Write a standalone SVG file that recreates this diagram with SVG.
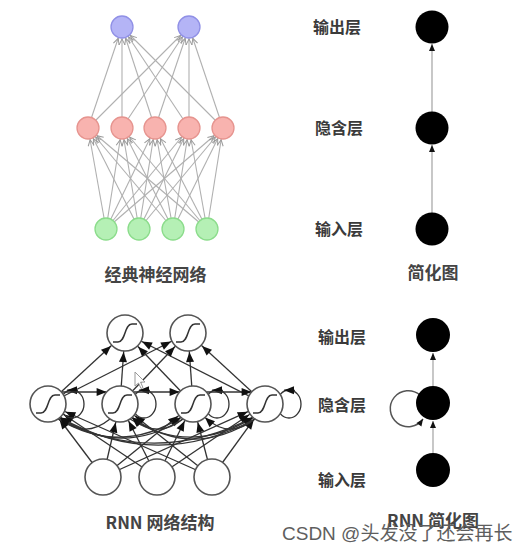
<svg xmlns="http://www.w3.org/2000/svg" width="532" height="554" viewBox="0 0 532 554">
<style>
.lbl{font-family:"Noto Sans CJK SC","Liberation Sans",sans-serif;font-weight:700;font-size:16px;fill:#3a3a3a}
.ttl{font-family:"Noto Sans CJK SC","Liberation Sans",sans-serif;font-weight:700;font-size:17px;fill:#444}
.wm{font-family:"Liberation Sans","Noto Sans CJK SC",sans-serif;font-size:19px;fill:#5e5e5e}
.nn{stroke:#b0b0b0;stroke-width:1.1;fill:none;marker-end:url(#ga)}
.blue{fill:#b4b4f6;stroke:#9090e6;stroke-width:1.3}
.red{fill:#f8b3af;stroke:#e6948f;stroke-width:1.3}
.green{fill:#b5f0b5;stroke:#8bdc8b;stroke-width:1.3}
.blk{fill:#000}
.sl{stroke:#aaa;stroke-width:1.3;fill:none}
.r{stroke:#333;stroke-width:1.3;fill:none}
.rc{stroke:#333;stroke-width:1.3;fill:none;marker-end:url(#ba)}
.rl{stroke:#333;stroke-width:1.3;fill:none;marker-end:url(#bc)}
.rn{fill:#fff;stroke:#555;stroke-width:1.6}
.sig{fill:none;stroke:#333;stroke-width:1.5}
</style>
<defs>
<marker id="ga" markerUnits="userSpaceOnUse" viewBox="0 0 30 10" markerWidth="30" markerHeight="10" refX="18" refY="5" orient="auto" overflow="visible">
<path d="M0,2 L6,5 L0,8" fill="none" stroke="#999" stroke-width="1"/>
</marker>
<marker id="sa" markerUnits="userSpaceOnUse" viewBox="0 0 8 8" markerWidth="8" markerHeight="8" refX="7" refY="4" orient="auto" overflow="visible">
<path d="M0,1 L7,4 L0,7 z" fill="#111"/>
</marker>
<marker id="bc" markerUnits="userSpaceOnUse" viewBox="0 0 10 10" markerWidth="10" markerHeight="10" refX="29" refY="4" orient="auto" overflow="visible">
<path d="M0,0 L10,4 L0,8 z" fill="#111"/>
</marker>
<marker id="ba" markerUnits="userSpaceOnUse" viewBox="0 0 10 10" markerWidth="10" markerHeight="10" refX="10" refY="4" orient="auto" overflow="visible">
<path d="M0,0 L10,4 L0,8 z" fill="#111"/>
</marker>
</defs>
<rect width="532" height="554" fill="#fff"/>

<g id="connectors">
<!-- classic NN: input -> hidden -->
<g id="nn-in-hid">
<line class="nn" x1="106" y1="229" x2="88" y2="128"/>
<line class="nn" x1="106" y1="229" x2="122" y2="128"/>
<line class="nn" x1="106" y1="229" x2="155" y2="128"/>
<line class="nn" x1="106" y1="229" x2="189" y2="128"/>
<line class="nn" x1="106" y1="229" x2="223" y2="128"/>
<line class="nn" x1="139" y1="229" x2="88" y2="128"/>
<line class="nn" x1="139" y1="229" x2="122" y2="128"/>
<line class="nn" x1="139" y1="229" x2="155" y2="128"/>
<line class="nn" x1="139" y1="229" x2="189" y2="128"/>
<line class="nn" x1="139" y1="229" x2="223" y2="128"/>
<line class="nn" x1="173" y1="229" x2="88" y2="128"/>
<line class="nn" x1="173" y1="229" x2="122" y2="128"/>
<line class="nn" x1="173" y1="229" x2="155" y2="128"/>
<line class="nn" x1="173" y1="229" x2="189" y2="128"/>
<line class="nn" x1="173" y1="229" x2="223" y2="128"/>
<line class="nn" x1="207" y1="229" x2="88" y2="128"/>
<line class="nn" x1="207" y1="229" x2="122" y2="128"/>
<line class="nn" x1="207" y1="229" x2="155" y2="128"/>
<line class="nn" x1="207" y1="229" x2="189" y2="128"/>
<line class="nn" x1="207" y1="229" x2="223" y2="128"/>
</g>
<!-- classic NN: hidden -> output -->
<g id="nn-hid-out">
<line class="nn" x1="88" y1="128" x2="122" y2="27"/>
<line class="nn" x1="122" y1="128" x2="122" y2="27"/>
<line class="nn" x1="155" y1="128" x2="122" y2="27"/>
<line class="nn" x1="189" y1="128" x2="122" y2="27"/>
<line class="nn" x1="223" y1="128" x2="122" y2="27"/>
<line class="nn" x1="88" y1="128" x2="189" y2="27"/>
<line class="nn" x1="122" y1="128" x2="189" y2="27"/>
<line class="nn" x1="155" y1="128" x2="189" y2="27"/>
<line class="nn" x1="189" y1="128" x2="189" y2="27"/>
<line class="nn" x1="223" y1="128" x2="189" y2="27"/>
</g>
<!-- simplified -->
<g id="simp-edges">
<line class="sl" x1="432" y1="213" x2="432" y2="145" marker-end="url(#sa)"/>
<line class="sl" x1="432" y1="112" x2="432" y2="44" marker-end="url(#sa)"/>
</g>
<!-- RNN: input -> hidden -->
<g id="rnn-in-hid">
<line class="rl" x1="103" y1="477" x2="48" y2="404"/>
<line class="rl" x1="103" y1="477" x2="120" y2="404"/>
<line class="rl" x1="103" y1="477" x2="193" y2="404"/>
<line class="rl" x1="103" y1="477" x2="265" y2="404"/>
<line class="rl" x1="157" y1="477" x2="48" y2="404"/>
<line class="rl" x1="157" y1="477" x2="120" y2="404"/>
<line class="rl" x1="157" y1="477" x2="193" y2="404"/>
<line class="rl" x1="157" y1="477" x2="265" y2="404"/>
<line class="rl" x1="212" y1="477" x2="48" y2="404"/>
<line class="rl" x1="212" y1="477" x2="120" y2="404"/>
<line class="rl" x1="212" y1="477" x2="193" y2="404"/>
<line class="rl" x1="212" y1="477" x2="265" y2="404"/>
</g>
<!-- RNN: hidden -> output -->
<g id="rnn-hid-out">
<line class="rl" x1="48" y1="404" x2="125" y2="333"/>
<line class="rl" x1="120" y1="404" x2="125" y2="333"/>
<line class="rl" x1="193" y1="404" x2="125" y2="333"/>
<line class="rl" x1="265" y1="404" x2="125" y2="333"/>
<line class="rl" x1="48" y1="404" x2="188" y2="333"/>
<line class="rl" x1="120" y1="404" x2="188" y2="333"/>
<line class="rl" x1="193" y1="404" x2="188" y2="333"/>
<line class="rl" x1="265" y1="404" x2="188" y2="333"/>
</g>
<!-- RNN: recurrent hidden -> hidden -->
<g id="rnn-rec">
<ellipse class="r" cx="72" cy="404" rx="12" ry="14"/>
<ellipse class="r" cx="144" cy="404" rx="12" ry="14"/>
<ellipse class="r" cx="217" cy="404" rx="12" ry="14"/>
<ellipse class="r" cx="289" cy="404" rx="12" ry="14"/>
<path class="rc" d="M78,390.3 L67,390.2"/>
<path class="rc" d="M150,390.3 L139,390.2"/>
<path class="rc" d="M223,390.3 L212,390.2"/>
<path class="rc" d="M295,390.3 L284,390.2"/>
<path class="rc" d="M61.4,392 L106.6,392"/>
<path class="rc" d="M133.4,392 L179.6,392"/>
<path class="rc" d="M206.4,392 L251.6,392"/>
<path class="rc" d="M58,419 Q120,456 181,417.4"/>
<path class="rc" d="M58,419 Q156,468 253,417.4"/>
<path class="rc" d="M130,419 Q192,456 253,417.4"/>
<path class="rc" d="M110,419 Q84,440 60,417.4"/>
<path class="rc" d="M183,419 Q120,458 60,417.4"/>
<path class="rc" d="M255,419 Q156,472 60,417.4"/>
<path class="rc" d="M183,419 Q157,440 132,417.4"/>
<path class="rc" d="M255,419 Q192,460 132,417.4"/>
<path class="rc" d="M255,419 Q229,440 205,417.4"/>
</g>
<!-- RNN simplified -->
<g id="rnn-simp-edges">
<line class="sl" x1="433" y1="453" x2="433" y2="421" marker-end="url(#sa)"/>
<line class="sl" x1="433" y1="386" x2="433" y2="353" marker-end="url(#sa)"/>
<path d="M420,395 A18,18 0 1 0 423,419" fill="none" stroke="#555" stroke-width="1.5" marker-end="url(#sa)"/>
</g>
</g>

<!-- classic NN nodes -->
<g id="nn-out-1"><circle class="blue" cx="122" cy="27" r="11"/></g>
<g id="nn-out-2"><circle class="blue" cx="189" cy="27" r="11"/></g>
<g id="nn-hid-1"><circle class="red" cx="88" cy="128" r="11"/></g>
<g id="nn-hid-2"><circle class="red" cx="122" cy="128" r="11"/></g>
<g id="nn-hid-3"><circle class="red" cx="155" cy="128" r="11"/></g>
<g id="nn-hid-4"><circle class="red" cx="189" cy="128" r="11"/></g>
<g id="nn-hid-5"><circle class="red" cx="223" cy="128" r="11"/></g>
<g id="nn-in-1"><circle class="green" cx="106" cy="229" r="11"/></g>
<g id="nn-in-2"><circle class="green" cx="139" cy="229" r="11"/></g>
<g id="nn-in-3"><circle class="green" cx="173" cy="229" r="11"/></g>
<g id="nn-in-4"><circle class="green" cx="207" cy="229" r="11"/></g>
<text class="ttl" x="155.5" y="281" text-anchor="middle">经典神经网络</text>

<!-- simplified nodes -->
<g id="simp-out"><circle class="blk" cx="432" cy="27" r="16.5"/><text class="lbl" x="313" y="33">输出层</text></g>
<g id="simp-hid"><circle class="blk" cx="432" cy="128" r="16.5"/><text class="lbl" x="315" y="134">隐含层</text></g>
<g id="simp-in"><circle class="blk" cx="432" cy="229" r="16.5"/><text class="lbl" x="315" y="235">输入层</text></g>
<text class="ttl" x="433" y="279" text-anchor="middle">简化图</text>

<!-- RNN nodes -->
<g id="rnn-out-1" transform="translate(125,333)"><circle class="rn" r="18"/><path class="sig" d="M-12,9 L-7,9 C1,9 -1,-9 7,-9 L12,-9"/></g>
<g id="rnn-out-2" transform="translate(188,333)"><circle class="rn" r="18"/><path class="sig" d="M-12,9 L-7,9 C1,9 -1,-9 7,-9 L12,-9"/></g>
<g id="rnn-hid-1" transform="translate(48,404)"><circle class="rn" r="18"/><path class="sig" d="M-12,9 L-7,9 C1,9 -1,-9 7,-9 L12,-9"/></g>
<g id="rnn-hid-2" transform="translate(120,404)"><circle class="rn" r="18"/><path class="sig" d="M-12,9 L-7,9 C1,9 -1,-9 7,-9 L12,-9"/></g>
<g id="rnn-hid-3" transform="translate(193,404)"><circle class="rn" r="18"/><path class="sig" d="M-12,9 L-7,9 C1,9 -1,-9 7,-9 L12,-9"/></g>
<g id="rnn-hid-4" transform="translate(265,404)"><circle class="rn" r="18"/><path class="sig" d="M-12,9 L-7,9 C1,9 -1,-9 7,-9 L12,-9"/></g>
<g id="rnn-in-1"><circle class="rn" cx="103" cy="477" r="18"/></g>
<g id="rnn-in-2"><circle class="rn" cx="157" cy="477" r="18"/></g>
<g id="rnn-in-3"><circle class="rn" cx="212" cy="477" r="18"/></g>
<text class="ttl" x="160" y="529" text-anchor="middle">RNN 网络结构</text>
<polygon points="135,372 135,386 138.5,383 141,388.5 143,387.5 140.6,382.2 145,382" fill="#fff" stroke="#999" stroke-width="1"/>

<!-- RNN simplified nodes -->
<g id="rs-out"><circle class="blk" cx="433" cy="335" r="17"/><text class="lbl" x="318" y="343">输出层</text></g>
<g id="rs-hid"><circle class="blk" cx="433" cy="403" r="17"/><text class="lbl" x="318" y="411">隐含层</text></g>
<g id="rs-in"><circle class="blk" cx="433" cy="470" r="17"/><text class="lbl" x="318" y="486">输入层</text></g>
<text class="ttl" x="433" y="527" text-anchor="middle">RNN 简化图</text>
<text class="wm" x="282" y="540">CSDN @头发没了还会再长</text>
</svg>
